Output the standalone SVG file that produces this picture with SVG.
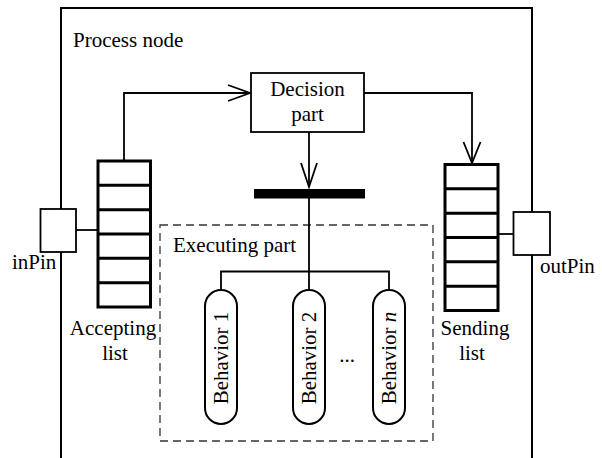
<svg xmlns="http://www.w3.org/2000/svg" width="602" height="458" viewBox="0 0 602 458">
  <style>
    text { font-family: "Liberation Serif", "Times New Roman", serif; font-size: 21px; fill: #000; }
    .mid { text-anchor: middle; }
    .frame { fill: none; stroke: #000; stroke-width: 2; }
    .box { fill: #fff; stroke: #000; stroke-width: 1.8; }
    .list { fill: #fff; stroke: #000; stroke-width: 3; }
    .wire { fill: none; stroke: #000; stroke-width: 1.8; }
    .head { fill: none; stroke: #000; stroke-width: 1.8; }
    .cap { fill: #fff; stroke: #000; stroke-width: 2; }
    .dash { fill: none; stroke: #333; stroke-width: 1.3; stroke-dasharray: 8 5; }
  </style>

  <rect width="602" height="458" fill="#fff"/>

  <!-- process node frame (open at the bottom) -->
  <g id="process-node">
    <path class="frame" d="M61,458 V8 H532 V458"/>
    <text x="73" y="47">Process node</text>
  </g>

  <!-- executing part region -->
  <g id="executing-part">
    <rect class="dash" x="160" y="225" width="273" height="216"/>
    <text x="173" y="252">Executing part</text>
  </g>

  <g id="connectors">
    <!-- accepting list to decision part -->
    <path class="wire" d="M124,161 V93 H250"/>
    <path class="head" d="M228,85 L250,93 L228,101"/>
    <!-- decision part to sending list -->
    <path class="wire" d="M364,93 H472 V163"/>
    <path class="head" d="M463.5,142 L472,163 L480.5,142"/>
    <!-- decision part to fork bar -->
    <path class="wire" d="M309,132 V187"/>
    <path class="head" d="M301,163 L309,187 L317,163"/>
    <!-- fork bar to behaviors -->
    <path class="wire" d="M309,198 V290 M221,290 V271.5 H389 V290"/>
    <!-- pins to lists -->
    <path class="wire" d="M76,230 H98"/>
    <path class="wire" d="M498,234 H513"/>
  </g>

  <g id="decision-part">
    <rect class="box" x="251" y="73" width="113" height="59"/>
    <text class="mid" x="307.5" y="96">Decision</text>
    <text class="mid" x="307.5" y="121">part</text>
  </g>

  <g id="fork-bar">
    <rect x="254" y="189" width="111" height="9.5" fill="#000"/>
  </g>

  <g id="in-pin">
    <rect class="box" x="40.5" y="209" width="35.5" height="43"/>
    <text x="12" y="269">inPin</text>
  </g>

  <g id="out-pin">
    <rect class="box" x="513.5" y="212" width="36.5" height="43"/>
    <text x="540" y="273">outPin</text>
  </g>

  <g id="accepting-list">
    <rect class="list" x="98" y="161" width="52.5" height="146"/>
    <path class="list" d="M98,185.3 H150.5 M98,209.7 H150.5 M98,234 H150.5 M98,258.3 H150.5 M98,282.7 H150.5"/>
    <text class="mid" x="113" y="335">Accepting</text>
    <text class="mid" x="115" y="360">list</text>
  </g>

  <g id="sending-list">
    <rect class="list" x="445" y="164.5" width="53" height="146"/>
    <path class="list" d="M445,188.8 H498 M445,213.2 H498 M445,237.5 H498 M445,261.8 H498 M445,286.2 H498"/>
    <text class="mid" x="475" y="335">Sending</text>
    <text class="mid" x="472" y="360">list</text>
  </g>

  <g id="behavior-1">
    <rect class="cap" x="205" y="290" width="32" height="134" rx="16" ry="16"/>
    <text class="mid" transform="translate(228,358) rotate(-90)">Behavior 1</text>
  </g>

  <g id="behavior-2">
    <rect class="cap" x="293" y="290" width="32" height="134" rx="16" ry="16"/>
    <text class="mid" transform="translate(316,358) rotate(-90)">Behavior 2</text>
  </g>

  <text class="mid" x="347" y="362">...</text>

  <g id="behavior-n">
    <rect class="cap" x="373" y="290" width="32" height="134" rx="16" ry="16"/>
    <text class="mid" transform="translate(396,358) rotate(-90)">Behavior <tspan font-style="italic">n</tspan></text>
  </g>
</svg>
